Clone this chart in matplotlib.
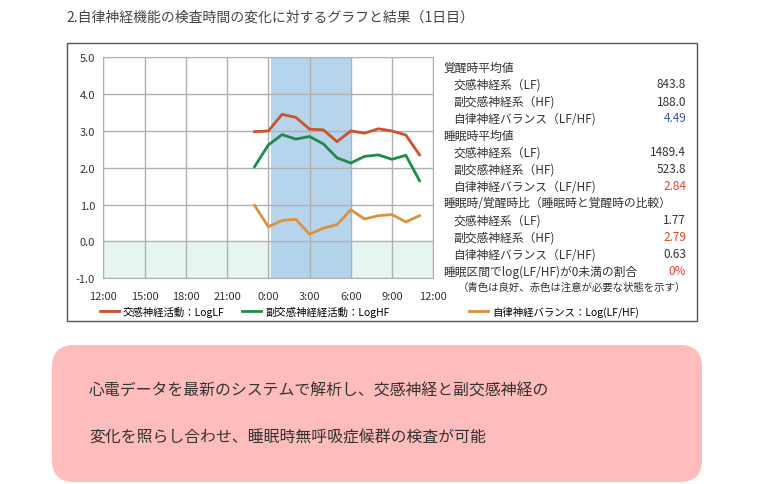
import matplotlib
matplotlib.use("Agg")
import matplotlib.pyplot as plt
from matplotlib.lines import Line2D
from matplotlib.patches import Rectangle, FancyBboxPatch

plt.rcParams['font.family'] = ['Noto Sans CJK JP', 'DejaVu Sans']

#### D A T A
# hours counted from 12:00 (0 = 12:00, 12 = 0:00, 24 = 12:00 next day)
hours = [11, 12, 13, 14, 15, 16, 17, 18, 19, 20, 21, 22, 23]
log_lf = [2.98, 3.00, 3.45, 3.37, 3.05, 3.03, 2.71, 3.00, 2.94, 3.06, 3.00, 2.89, 2.35]
log_hf = [2.03, 2.62, 2.90, 2.78, 2.85, 2.65, 2.27, 2.13, 2.31, 2.35, 2.23, 2.34, 1.65]
log_ratio = [0.98, 0.40, 0.57, 0.60, 0.20, 0.36, 0.46, 0.86, 0.61, 0.70, 0.73, 0.53, 0.70]

series_names = ['交感神経活動：LogLF', '副交感神経経活動：LogHF', '自律神経バランス：Log(LF/HF)']
series_colors = ['#c8532c', '#1f8b4a', '#dc923c']

xtick_pos = [0, 3, 6, 9, 12, 15, 18, 21, 24]
xtick_labels = ['12:00', '15:00', '18:00', '21:00', '0:00', '3:00', '6:00', '9:00', '12:00']
sleep_start, sleep_end = 12.2, 18

title = '2.自律神経機能の検査時間の変化に対するグラフと結果（1日目）'

panel_labels = ['覚醒時平均値', '交感神経系（LF)', '副交感神経系（HF)', '自律神経バランス（LF/HF)',
                '睡眠時平均値', '交感神経系（LF)', '副交感神経系（HF)', '自律神経バランス（LF/HF)',
                '睡眠時/覚醒時比（睡眠時と覚醒時の比較）', '交感神経系（LF)', '副交感神経系（HF)',
                '自律神経バランス（LF/HF)', '睡眠区間でlog(LF/HF)が0未満の割合']
panel_indent = [0, 1, 1, 1, 0, 1, 1, 1, 0, 1, 1, 1, 0]
panel_values = ['', '843.8', '188.0', '4.49', '', '1489.4', '523.8', '2.84',
                '', '1.77', '2.79', '0.63', '0%']
panel_value_colors = ['#333333', '#333333', '#333333', '#3a55b0', '#333333', '#333333', '#333333',
                      '#e2412e', '#333333', '#333333', '#e2412e', '#333333', '#e2412e']
panel_note = '（青色は良好、赤色は注意が必要な状態を示す）'

summary_lines = ['心電データを最新のシステムで解析し、交感神経と副交感神経の',
                 '変化を照らし合わせ、睡眠時無呼吸症候群の検査が可能']

#### F I G U R E
W, H = 760, 485
fig = plt.figure(figsize=(W / 100, H / 100), dpi=100)
fig.patch.set_facecolor('white')

# background layer in pixel coordinates
bg = fig.add_axes([0, 0, 1, 1], zorder=0)
bg.set_xlim(0, W)
bg.set_ylim(H, 0)
bg.axis('off')

bg.text(66, 18, title, fontsize=10, color='#444444', va='center', ha='left')
bg.add_patch(Rectangle((67, 44), 630, 278, fill=False, edgecolor='#555555', lw=1.0))

# pink summary box
bg.add_patch(FancyBboxPatch((52, 346), 650, 137, boxstyle='round,pad=0,rounding_size=22',
                            facecolor='#ffbcbc', edgecolor='none'))
for i, line in enumerate(summary_lines):
    bg.text(89, 391 + i * 47, line, fontsize=11.4, color='#333333', va='center', ha='left')

# right panel
y0, dy = 68, 17
for i, (lab, ind, val, col) in enumerate(zip(panel_labels, panel_indent, panel_values, panel_value_colors)):
    y = y0 + i * dy
    bg.text(443 + 10 * ind, y, lab, fontsize=8.5, color='#333333', va='center', ha='left')
    if val:
        bg.text(686, y, val, fontsize=8.5, color=col, va='center', ha='right')
bg.text(458, y0 + len(panel_labels) * dy - 1, panel_note, fontsize=7.5, color='#333333',
        va='center', ha='left')

#### C H A R T
ax = fig.add_axes([103.3 / W, 1 - 279.3 / H, 330 / W, 221 / H], zorder=2)
ax.axvspan(sleep_start, sleep_end, color='#abcdea', alpha=0.85, lw=0, zorder=1)
ax.axhspan(-1, 0, color='#e6f5ee', lw=0, zorder=0)

lines = []
for vals, name, c in zip([log_lf, log_hf, log_ratio], series_names, series_colors):
    ln, = ax.plot(hours, vals, color=c, lw=2.0, label=name, zorder=3)
    lines.append(ln)

ax.set_xlim(0, 24)
ax.set_ylim(-1, 5)
ax.set_xticks(xtick_pos)
ax.set_xticklabels(xtick_labels)
ax.set_yticks([-1, 0, 1, 2, 3, 4, 5])
ax.set_yticklabels([f'{v:.1f}' for v in range(-1, 6)])
ax.grid(True, color='#b0b0b0', lw=1.0, zorder=2)
ax.set_axisbelow(False)
ax.tick_params(axis='x', length=0, labelsize=8, colors='#333333', pad=9)
ax.tick_params(axis='y', length=0, labelsize=8, colors='#333333', pad=6)
for s in ax.spines.values():
    s.set_color('#b0b0b0')

# legend entries under the chart
legend_x = [100, 242, 469]
for ln, lx in zip(lines, legend_x):
    handle = Line2D([], [], color=ln.get_color(), lw=2.0)
    fig.legend([handle], [ln.get_label()], loc='center left', frameon=False,
               bbox_to_anchor=(lx / W, 1 - 312 / H), fontsize=7.5, handlelength=1.8,
               handletextpad=0.4, borderpad=0, borderaxespad=0)

plt.savefig('out.png', dpi=100)
